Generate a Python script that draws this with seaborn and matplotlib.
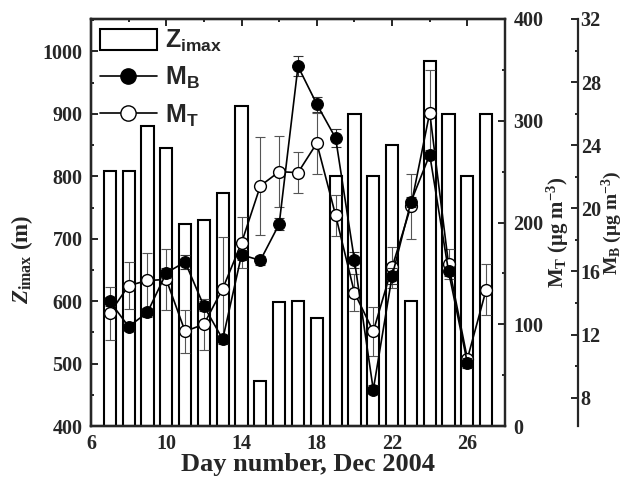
import numpy as np
import pandas as pd
import matplotlib
matplotlib.use("Agg")
import matplotlib.pyplot as plt
import seaborn as sns
from matplotlib.patches import Patch
from matplotlib.lines import Line2D
from matplotlib.ticker import MultipleLocator

# ---- data ----
days = list(range(7, 28))
z_imax = [809, 808, 880, 845, 723, 730, 774, 912, 472, 598, 600, 573,
          800, 900, 800, 850, 600, 984, 900, 800, 900]

mt_days = list(range(7, 28))
mt = [111, 138, 143, 144, 93, 100, 135, 180, 236, 250, 249, 278,
      207, 131, 93, 156, 216, 308, 159, 66, 134]
mt_err = [26, 23, 27, 30, 21, 25, 51, 25, 48, 35, 20, 30,
          20, 18, 24, 20, 32, 42, 15, 0, 25]

mb_days = list(range(7, 27))
mb = [14.1, 12.5, 13.4, 15.9, 16.6, 13.8, 11.7, 17.05, 16.7, 19.0, 29.0, 26.6,
      24.45, 16.7, 8.5, 15.7, 20.4, 23.4, 16.0, 10.2]
mb_err = [0.3, 0.3, 0.3, 0.3, 0.45, 0.3, 0.3, 0.3, 0.3, 0.4, 0.63, 0.48,
          0.57, 0.5, 0.3, 0.5, 0.3, 0.3, 0.3, 0.3]

x_ticks = [6, 10, 14, 18, 22, 26]

# ---- style ----
sns.set_style("ticks")
plt.rcParams["font.family"] = ["Liberation Serif", "DejaVu Serif"]
plt.rcParams["font.weight"] = "bold"
plt.rcParams["mathtext.default"] = "regular"
plt.rcParams["mathtext.fontset"] = "custom"
plt.rcParams["mathtext.it"] = "Liberation Serif:italic:bold"
plt.rcParams["axes.linewidth"] = 1.6

fig = plt.figure(figsize=(6.3, 4.87), dpi=100)
ax = fig.add_axes([91 / 630, 1 - 426 / 487, 414 / 630, 407 / 487])

df_z = pd.DataFrame({"day": days, "z": z_imax})
sns.barplot(data=df_z, x="day", y="z", native_scale=True, width=0.65,
            color="white", edgecolor="black", linewidth=1.5, ax=ax,
            errorbar=None)

TICK_FS = 14.5
ax.set_xlim(6, 28)
ax.set_ylim(400, 1052)
ax.set_xticks(x_ticks)
ax.xaxis.set_minor_locator(MultipleLocator(2))
ax.set_yticks(range(400, 1001, 100))
ax.yaxis.set_minor_locator(MultipleLocator(50))
ax.tick_params(which="both", direction="in", top=True, width=1.4)
ax.tick_params(which="major", length=5, labelsize=TICK_FS, pad=6)
ax.tick_params(which="minor", length=2.5)
ax.tick_params(axis="x", pad=6)
ax.set_xlabel("Day number, Dec 2004", fontsize=19, fontweight="bold")
ax.xaxis.set_label_coords(0.524, -0.066)
ax.set_ylabel(r"$\mathit{Z}_{imax}$ (m)", fontsize=16.5, fontweight="bold")
ax.yaxis.set_label_coords(-0.135, 0.41)

# MT axis
ax2 = ax.twinx()
ax2.errorbar(mt_days, mt, yerr=mt_err, fmt="none", ecolor="#555555",
             elinewidth=0.8, capsize=3.5, capthick=0.8, zorder=1)
df_t = pd.DataFrame({"day": mt_days, "mt": mt})
sns.lineplot(data=df_t, x="day", y="mt", ax=ax2, color="black", linewidth=1.2,
             marker="o", markersize=8.5, markerfacecolor="white",
             markeredgecolor="black", markeredgewidth=1.0, zorder=3,
             errorbar=None, legend=False)
ax2.set_ylim(0, 400)
ax2.yaxis.set_major_locator(MultipleLocator(100))
ax2.yaxis.set_minor_locator(MultipleLocator(50))
ax2.tick_params(which="both", direction="in", width=1.4)
ax2.tick_params(which="major", length=5, labelsize=TICK_FS, pad=6)
ax2.tick_params(which="minor", length=2.5)
ax2.set_ylabel(r"M$_{T}$ (μg m$^{-3}$)", fontsize=15, fontweight="bold")
ax2.yaxis.set_label_coords(1.097, 0.477)
ax2.set_xlabel("")

# MB axis
ax3 = ax.twinx()
ax3.spines["right"].set_position(("axes", 1.176))
ax3.errorbar(mb_days, mb, yerr=mb_err, fmt="none", ecolor="#333333",
             elinewidth=0.8, capsize=3.5, capthick=0.8, zorder=1)
df_b = pd.DataFrame({"day": mb_days, "mb": mb})
sns.lineplot(data=df_b, x="day", y="mb", ax=ax3, color="black", linewidth=1.2,
             marker="o", markersize=8.5, markerfacecolor="black",
             markeredgecolor="black", zorder=3, errorbar=None, legend=False)
ax3.set_ylim(6.2, 32)
ax3.set_yticks([8, 12, 16, 20, 24, 28, 32])
ax3.yaxis.set_minor_locator(MultipleLocator(2))
ax3.tick_params(which="both", direction="in", width=1.4)
ax3.tick_params(which="major", length=5, labelsize=TICK_FS, pad=2)
ax3.tick_params(which="minor", length=2.5)
ax3.set_ylabel(r"M$_{B}$ (μg m$^{-3}$)", fontsize=14, fontweight="bold")
ax3.yaxis.set_label_coords(1.228, 0.5)
ax3.set_xlabel("")
for a in (ax2, ax3):
    a.set_xlim(6, 28)

# legend
handles = [
    Patch(facecolor="white", edgecolor="black", linewidth=1.5),
    Line2D([], [], color="black", lw=1.2, marker="o", markersize=11,
           markerfacecolor="black"),
    Line2D([], [], color="black", lw=1.2, marker="o", markersize=11,
           markerfacecolor="white"),
]
labels = [r"Z$_{imax}$", r"M$_{B}$", r"M$_{T}$"]
ax3.legend(handles, labels, loc="upper left", bbox_to_anchor=(0.0, 1.0),
           frameon=False, prop={"family": "Liberation Sans", "weight": "bold",
                                "size": 18},
           handlelength=2.3, handleheight=0.9, handletextpad=0.3,
           labelspacing=0.45, borderaxespad=0.15, borderpad=0.2)

fig.savefig("out.png", dpi=100)
